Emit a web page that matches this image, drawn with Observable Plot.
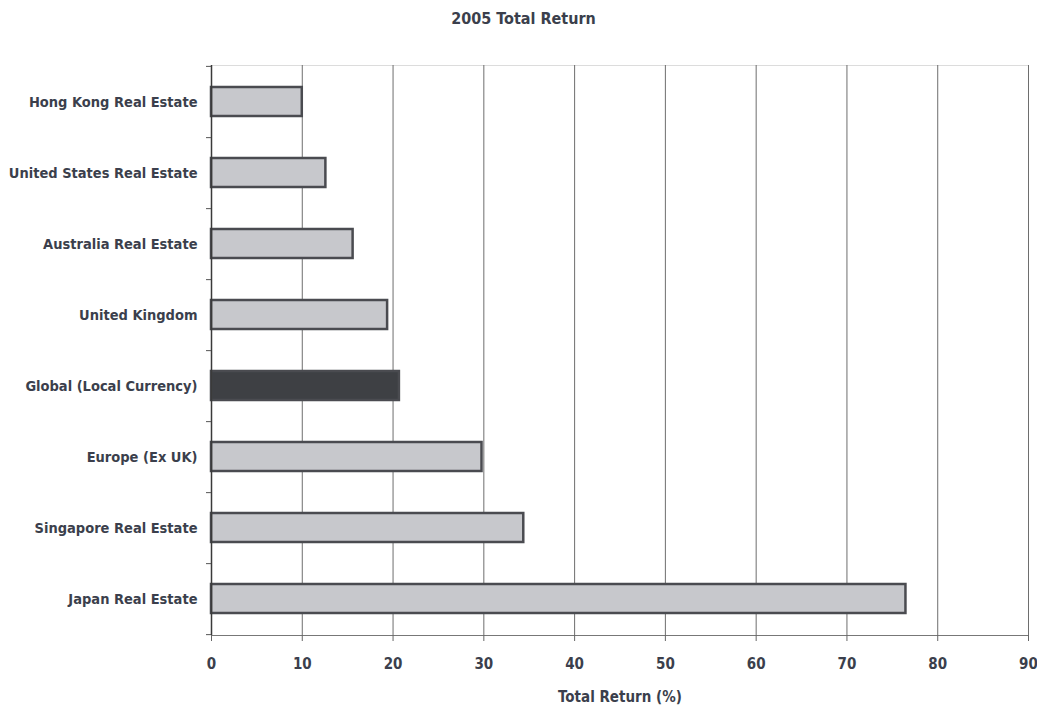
<!DOCTYPE html>
<html><head><meta charset="utf-8">
<script src="https://cdn.jsdelivr.net/npm/d3@7"></script>
<script src="https://cdn.jsdelivr.net/npm/@observablehq/plot@0.6"></script>
<style>
body{margin:0;background:#fff;font-family:"DejaVu Sans Condensed","DejaVu Sans",sans-serif;}
#title{height:40px;text-align:center;font-weight:bold;font-size:16px;color:#3b3f4c;line-height:38px;padding-left:10px;}
svg{overflow:visible;}
</style></head><body>
<div id="title">2005 Total Return</div>
<div id="chart"></div>
<script>
const categories = ["Hong Kong Real Estate","United States Real Estate","Australia Real Estate","United Kingdom","Global (Local Currency)","Europe (Ex UK)","Singapore Real Estate","Japan Real Estate"];
const values = [10.0, 12.6, 15.6, 19.4, 20.7, 29.8, 34.4, 76.5];
const highlight = "Global (Local Currency)";
const xTicks = [0,10,20,30,40,50,60,70,80,90];
const xLabel = "Total Return (%)";

const data = categories.map((name, i) => ({name, value: values[i]}));
const W = 1037, H = 671, mT = 25, mB = 76, mL = 211, mR = 9;
const step = (H - mT - mB) / categories.length;

const chart = Plot.plot({
  width: W, height: H,
  marginTop: mT, marginBottom: mB, marginLeft: mL, marginRight: mR,
  style: {fontFamily: '"DejaVu Sans Condensed","DejaVu Sans",sans-serif', fontWeight: "bold", color: "#3b3f4c", background: "#fff", overflow: "visible"},
  x: {domain: [0, 90]},
  y: {domain: categories, paddingInner: 0.59, paddingOuter: 0.295},
  marks: [
    Plot.frame({anchor: "top", stroke: "#dcdcdc"}),
    Plot.gridX(xTicks.slice(1), {stroke: "#6e6e6e", strokeOpacity: 1, strokeWidth: 1}),
    Plot.barX(data, {y: "name", x: "value",
      fill: d => d.name === highlight ? "#3e4044" : "#c7c8cc",
      stroke: "#4a4b50", strokeWidth: 2.5}),
    Plot.ruleX([0], {stroke: "#3a3a3a", strokeWidth: 1.5}),
    Plot.ruleY(categories, {y: d => d, x1: 0, x2: 0, insetLeft: -5, dy: step / 2, stroke: "#555"}),
    Plot.ruleY(categories.slice(0, 1), {y: d => d, x1: 0, x2: 0, insetLeft: -5, dy: -step / 2, stroke: "#555"}),
    Plot.frame({anchor: "bottom", stroke: "#777"}),
    Plot.axisY({tickSize: 0, tickPadding: 14, fontSize: 14.5, label: null}),
    Plot.axisX(xTicks, {tickSize: 6, tickPadding: 17, fontSize: 15, stroke: "#666",
      label: xLabel, labelAnchor: "center", labelArrow: "none", labelOffset: 66}),
  ]
});
document.getElementById("chart").appendChild(chart);
</script>
</body></html>
